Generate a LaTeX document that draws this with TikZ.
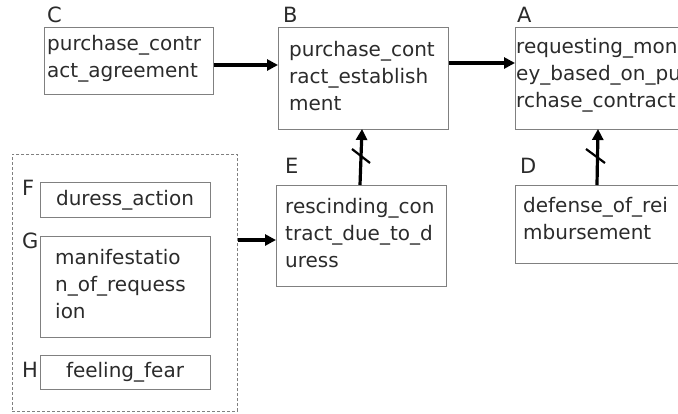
\documentclass[tikz,border=0pt]{standalone}
\usepackage{fontspec}
\setmainfont{DejaVu Sans}
\usetikzlibrary{arrows.meta,calc}
\definecolor{ink}{HTML}{2B2B2B}
\definecolor{frame}{HTML}{808080}
\tikzset{
  box/.style={draw=frame, line width=0.9pt, inner sep=0pt, anchor=north west},
  grp/.style={draw=frame, line width=0.8pt, dash pattern=on 3pt off 2pt, inner sep=0pt, anchor=north west},
  % multi-line texts are placed by the baseline of their last line
  txt/.style={text=ink, inner sep=0pt, anchor=base west, align=left,
    font=\fontsize{20}{27}\selectfont},
  tag/.style={text=ink, inner sep=0pt, anchor=base west, font=\fontsize{21}{25}\selectfont},
  link/.style={line width=3.2pt, -{Triangle[length=11pt,width=11pt]}},
  cut/.style={line width=2.2pt},
}
\begin{document}
\begin{tikzpicture}[x=1pt,y=-1pt]
\useasboundingbox (0,0) rectangle (678,413);

% upper row of statements
\node[box, minimum width=169pt, minimum height=67pt]  (C) at (44,27)  {};
\node[box, minimum width=170pt, minimum height=102pt] (B) at (278,27) {};
\node[box, minimum width=180pt, minimum height=102pt] (A) at (515,27) {};
\node[txt] (Ct) at (47,77)   {purchase\_contr\\act\_agreement};
\node[txt] (Bt) at (289,110) {purchase\_cont\\ract\_establish\\ment};
\node[txt] (At) at (516,107) {requesting\_mon\\ey\_based\_on\_pu\\rchase\_contract};
\node[tag] (Cl) at (47,22)  {C};
\node[tag] (Bl) at (283,22) {B};
\node[tag] (Al) at (517,22) {A};

% lower row
\node[box, minimum width=170pt, minimum height=101pt] (E) at (276,185) {};
\node[box, minimum width=180pt, minimum height=78pt]  (D) at (515,185) {};
\node[txt] (Et) at (285,267) {rescinding\_con\\tract\_due\_to\_d\\uress};
\node[txt] (Dt) at (523,239) {defense\_of\_rei\\mbursement};
\node[tag] (El) at (285,173) {E};
\node[tag] (Dl) at (520,173) {D};

% grouped requirements
\node[grp, minimum width=225pt, minimum height=257pt] (grp) at (12,154) {};
\node[box, minimum width=170pt, minimum height=35pt]  (F) at (40,182) {};
\node[box, minimum width=170pt, minimum height=101pt] (G) at (40,236) {};
\node[box, minimum width=170pt, minimum height=34pt]  (H) at (40,355) {};
\node[txt, anchor=base] (Ft) at (125,205) {duress\_action};
\node[txt] (Gt) at (55,318) {manifestatio\\n\_of\_requess\\ion};
\node[txt, anchor=base] (Ht) at (125,377) {feeling\_fear};
\node[tag] (Fl) at (22,195) {F};
\node[tag] (Gl) at (22,248) {G};
\node[tag] (Hl) at (22,377) {H};

% supporting links
\draw[link] (C.east |- 0,65) -- (B.west |- 0,65);
\draw[link] (B.east |- 0,63) -- (A.west |- 0,63);
\draw[link] (grp.east |- 0,240) -- (E.west |- 0,240);

% defeating links with a cross stroke
\coordinate (e0) at (360,185);
\coordinate (e1) at (362,129);
\draw[link] (e0) -- (e1);
\coordinate (ex0) at (352,149);
\coordinate (ex1) at (370,163);
\draw[cut] (ex0) -- (ex1);

\coordinate (d0) at (597,185);
\coordinate (d1) at (598,129);
\draw[link] (d0) -- (d1);
\coordinate (dx0) at (586,149);
\coordinate (dx1) at (605,163);
\draw[cut] (dx0) -- (dx1);
\end{tikzpicture}
\end{document}
